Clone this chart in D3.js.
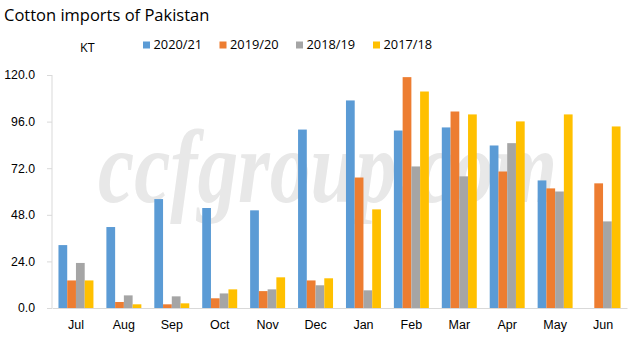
<!DOCTYPE html>
<html>
<head>
<meta charset="utf-8">
<script src="https://cdn.jsdelivr.net/npm/d3@7"></script>
<style>
  body { margin: 0; background: #fff; }
  svg { display: block; font-family: "Open Sans", "Liberation Sans", sans-serif; }
</style>
</head>
<body>
<div id="chart"></div>
<script>
const months = ["Jul", "Aug", "Sep", "Oct", "Nov", "Dec", "Jan", "Feb", "Mar", "Apr", "May", "Jun"];
const seasons = ["2020/21", "2019/20", "2018/19", "2017/18"];
const colors = ["#5B9BD5", "#ED7D31", "#A5A5A5", "#FFC000"];

// KT per month, one array per season (null = no data yet)
const imports2020 = [32.4, 41.7, 56.1, 51.5, 50.3, 91.9, 106.9, 91.4, 93.0, 83.7, 65.7, null];
const imports2019 = [14.2, 3.1, 1.9, 5.0, 8.7, 14.2, 67.2, 118.9, 101.2, 70.3, 61.6, 64.2];
const imports2018 = [23.2, 6.5, 6.0, 7.5, 9.6, 11.7, 9.1, 72.9, 67.8, 84.9, 60.0, 44.6];
const imports2017 = [14.2, 1.9, 2.4, 9.6, 15.8, 15.3, 50.8, 111.5, 99.7, 96.1, 99.7, 93.5];
const yTicks = [0, 24, 48, 72, 96, 120];

const seriesValues = [imports2020, imports2019, imports2018, imports2017];

const width = 643, height = 341;
const margin = { top: 75, right: 16, bottom: 33, left: 52 };

const svg = d3.select("#chart").append("svg")
  .attr("width", width)
  .attr("height", height);

const x = d3.scaleBand()
  .domain(months)
  .range([margin.left, width - margin.right]);

const x1 = d3.scaleBand()
  .domain(seasons)
  .range([0, x.bandwidth()])
  .paddingOuter(0.74);

const y = d3.scaleLinear()
  .domain([0, 120])
  .range([height - margin.bottom, margin.top]);

// watermark
svg.append("text")
  .attr("x", 98)
  .attr("y", 202)
  .attr("font-family", "'Liberation Serif', 'DejaVu Serif', serif")
  .attr("font-style", "italic")
  .attr("font-weight", "bold")
  .attr("font-size", 104)
  .attr("textLength", 459)
  .attr("lengthAdjust", "spacingAndGlyphs")
  .attr("fill", "#e8e8e8")
  .text("ccfgroup.com");

svg.append("text")
  .attr("x", 4)
  .attr("y", 21)
  .attr("fill", "#000")
  .attr("font-size", 16.5)
  .text("Cotton imports of Pakistan");

svg.append("text")
  .attr("x", 80)
  .attr("y", 52)
  .attr("fill", "#000")
  .attr("font-size", 12.5)
  .text("KT");

const legend = svg.append("g");
const legendX = [143, 219.5, 296, 373];
seasons.forEach((s, i) => {
  legend.append("rect")
    .attr("x", legendX[i])
    .attr("y", 41.5)
    .attr("width", 7)
    .attr("height", 7)
    .attr("fill", colors[i]);
  legend.append("text")
    .attr("x", legendX[i] + 10.5)
    .attr("y", 49)
    .attr("font-size", 12.8)
    .attr("fill", "#000")
    .text(s);
});

const yAxis = svg.append("g")
  .attr("transform", `translate(${margin.left},0)`)
  .call(d3.axisLeft(y).tickValues(yTicks).tickSize(5).tickPadding(12).tickFormat(d3.format(".1f")));
yAxis.select(".domain").attr("stroke", "#d9d9d9").attr("d", `M0,${y(0)}V${y(120)}`);
yAxis.selectAll("line").attr("stroke", "#d9d9d9");
yAxis.selectAll("text").attr("font-size", 12.3).attr("fill", "#000");

const xAxis = svg.append("g")
  .attr("transform", `translate(0,${y(0)})`)
  .call(d3.axisBottom(x).tickSize(0).tickPadding(12));
xAxis.select(".domain").attr("stroke", "#d9d9d9");
xAxis.selectAll("text").attr("font-size", 12.5).attr("fill", "#000");

seasons.forEach((s, i) => {
  svg.append("g")
    .selectAll("rect")
    .data(months.map((m, j) => ({ month: m, value: seriesValues[i][j] })).filter(d => d.value != null))
    .join("rect")
    .attr("x", d => x(d.month) + x1(s))
    .attr("y", d => y(d.value))
    .attr("width", x1.bandwidth())
    .attr("height", d => y(0) - y(d.value))
    .attr("fill", colors[i]);
});
</script>
</body>
</html>
